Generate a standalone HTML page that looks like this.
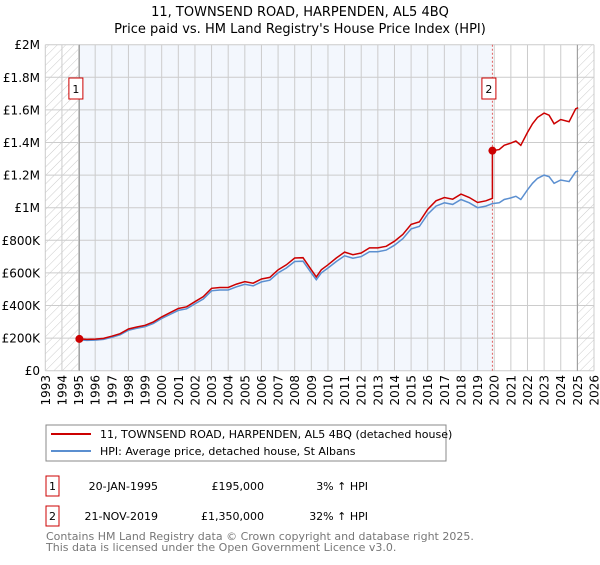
<!DOCTYPE html>
<html><head><meta charset="utf-8"><style>
body{margin:0;background:#fff;font-family:"Liberation Sans","DejaVu Sans",sans-serif;}
svg text{font-family:"DejaVu Sans","Liberation Sans",sans-serif;}
</style></head><body>
<svg id="chart" width="600" height="560" xmlns="http://www.w3.org/2000/svg">
<defs>
<pattern id="hatch" width="6" height="6" patternUnits="userSpaceOnUse" patternTransform="rotate(45)">
<line x1="0" y1="0" x2="0" y2="6" stroke="#ccc" stroke-width="1"/>
</pattern>
</defs>
<text x="300" y="16" text-anchor="middle" font-size="13">11, TOWNSEND ROAD, HARPENDEN, AL5 4BQ</text>
<text x="300" y="33" text-anchor="middle" font-size="13">Price paid vs. HM Land Registry's House Price Index (HPI)</text>
<g id="plot"></g>
<g>
<rect x="46" y="425" width="400" height="36" fill="#fff" stroke="#888"/>
<line x1="51" y1="434" x2="91" y2="434" stroke="#cc0000" stroke-width="2"/>
<text x="100" y="438" font-size="11">11, TOWNSEND ROAD, HARPENDEN, AL5 4BQ (detached house)</text>
<line x1="51" y1="451" x2="91" y2="451" stroke="#5b8fd0" stroke-width="2"/>
<text x="100" y="455" font-size="11">HPI: Average price, detached house, St Albans</text>
</g>
<g font-size="11">
<rect x="46" y="476" width="13" height="20" fill="none" stroke="#cc0000"/>
<text x="52.5" y="490" text-anchor="middle">1</text>
<text x="158" y="490" text-anchor="end">20-JAN-1995</text>
<text x="264" y="490" text-anchor="end">£195,000</text>
<text x="368" y="490" text-anchor="end">3% ↑ HPI</text>
<rect x="46" y="506" width="13" height="20" fill="none" stroke="#cc0000"/>
<text x="52.5" y="520" text-anchor="middle">2</text>
<text x="158" y="520" text-anchor="end">21-NOV-2019</text>
<text x="264" y="520" text-anchor="end">£1,350,000</text>
<text x="368" y="520" text-anchor="end">32% ↑ HPI</text>
</g>
<text x="46" y="540" font-size="11" fill="#777">Contains HM Land Registry data © Crown copyright and database right 2025.</text>
<text x="46" y="551" font-size="11" fill="#777">This data is licensed under the Open Government Licence v3.0.</text>
</svg>
<script>
const hpiYears=[1995.05,1995.5,1996,1996.5,1997,1997.5,1998,1998.5,1999,1999.5,2000,2000.5,2001,2001.5,2002,2002.5,2003,2003.5,2004,2004.5,2005,2005.5,2006,2006.5,2007,2007.5,2008,2008.5,2009,2009.3,2009.6,2010,2010.5,2011,2011.5,2012,2012.5,2013,2013.5,2014,2014.5,2015,2015.5,2016,2016.5,2017,2017.5,2018,2018.5,2019,2019.5,2019.89,2020.3,2020.6,2021,2021.3,2021.6,2022,2022.3,2022.6,2023,2023.3,2023.6,2024,2024.5,2024.9,2025.05];
const hpiValues=[189000,186000,188000,192000,205000,220000,248000,260000,270000,290000,320000,345000,370000,380000,410000,440000,490000,495000,495000,515000,530000,520000,545000,555000,600000,630000,670000,672000,600000,558000,600000,630000,670000,705000,690000,700000,730000,730000,740000,770000,810000,870000,885000,960000,1010000,1030000,1020000,1050000,1030000,1000000,1010000,1025000,1030000,1050000,1060000,1070000,1050000,1110000,1150000,1180000,1200000,1190000,1150000,1170000,1160000,1220000,1225000];
const saleYears=[1995.05,2019.89];
const salePrices=[195000,1350000];
const saleLabels=["1","2"];
const yTicks=[0,200000,400000,600000,800000,1000000,1200000,1400000,1600000,1800000,2000000];
const yTickLabels=["£0","£200K","£400K","£600K","£800K","£1M","£1.2M","£1.4M","£1.6M","£1.8M","£2M"];
const xTicks=[1993,1994,1995,1996,1997,1998,1999,2000,2001,2002,2003,2004,2005,2006,2007,2008,2009,2010,2011,2012,2013,2014,2015,2016,2017,2018,2019,2020,2021,2022,2023,2024,2025,2026];

const X0=45.3,X1=594,Y0=370.7,Y1=44.7;
const xs=y=>X0+(y-1993)/(2026-1993)*(X1-X0);
const ys=v=>Y0-v/2000000*(Y0-Y1);
const NS="http://www.w3.org/2000/svg";
const g=document.getElementById('plot');
function mk(t,a){const e=document.createElementNS(NS,t);for(const k in a)e.setAttribute(k,a[k]);g.appendChild(e);return e;}

let e;
e=mk('rect',{x:xs(saleYears[0]),y:Y1,width:xs(saleYears[1])-xs(saleYears[0]),height:Y0-Y1,fill:'#f3f7fd'});


e=mk('rect',{x:X0,y:Y1,width:xs(1995.05)-X0,height:Y0-Y1,fill:'url(#hatch)'});


e=mk('rect',{x:xs(2025.0),y:Y1,width:X1-xs(2025.0),height:Y0-Y1,fill:'url(#hatch)'});


xTicks.forEach(t=>{
  e=mk('line',{x1:xs(t),x2:xs(t),y1:Y1,y2:Y0,stroke:'#ccc','stroke-width':1});
  
  
  e=mk('text',{x:0,y:0,'font-size':12,'text-anchor':'end',transform:`translate(${xs(t)+4.5},375) rotate(-90)`});
  e.textContent=t;
  
  
});
yTicks.forEach((t,i)=>{
  e=mk('line',{x1:X0,x2:X1,y1:ys(t),y2:ys(t),stroke:'#ccc','stroke-width':1});
  
  
  e=mk('text',{x:40,y:ys(t)+4.5,'font-size':12,'text-anchor':'end'});
  e.textContent=yTickLabels[i];
  
  
});
e=mk('line',{x1:xs(1995.05),x2:xs(1995.05),y1:Y1,y2:Y0,stroke:'#999','stroke-width':1});


e=mk('line',{x1:xs(2025.0),x2:xs(2025.0),y1:Y1,y2:Y0,stroke:'#999','stroke-width':1});


e=mk('line',{x1:xs(saleYears[1]),x2:xs(saleYears[1]),y1:Y1,y2:Y0,stroke:'#e06060','stroke-width':1,'stroke-dasharray':'2,2'});



let d=hpiYears.map((y,i)=>(i?'L':'M')+xs(y).toFixed(1)+','+ys(hpiValues[i]).toFixed(1)).join('');
e=mk('path',{d:d,fill:'none',stroke:'#5b8fd0','stroke-width':1.5});


let pts=[];
const j2=hpiYears.indexOf(saleYears[1]);
hpiYears.forEach((y,i)=>{
  if(i===j2){pts.push([y,hpiValues[i]*salePrices[0]/hpiValues[0]]);}
  if(y>=saleYears[1]) pts.push([y,hpiValues[i]*salePrices[1]/hpiValues[j2]]);
  else pts.push([y,hpiValues[i]*salePrices[0]/hpiValues[0]]);
});
d=pts.map((p,i)=>(i?'L':'M')+xs(p[0]).toFixed(1)+','+ys(p[1]).toFixed(1)).join('');
e=mk('path',{d:d,fill:'none',stroke:'#cc0000','stroke-width':1.5});


saleYears.forEach((y,i)=>{
  e=mk('circle',{cx:xs(y),cy:ys(salePrices[i]),r:4,fill:'#cc0000'});
  
  
  const bx=xs(y)-10.5;
  e=mk('rect',{x:bx,y:78,width:14,height:21,fill:'#fff',stroke:'#cc0000'});
  
  
  e=mk('text',{x:bx+7,y:93,'font-size':11,'text-anchor':'middle'});
  e.textContent=saleLabels[i];
  
  
});
</script>
</body></html>
